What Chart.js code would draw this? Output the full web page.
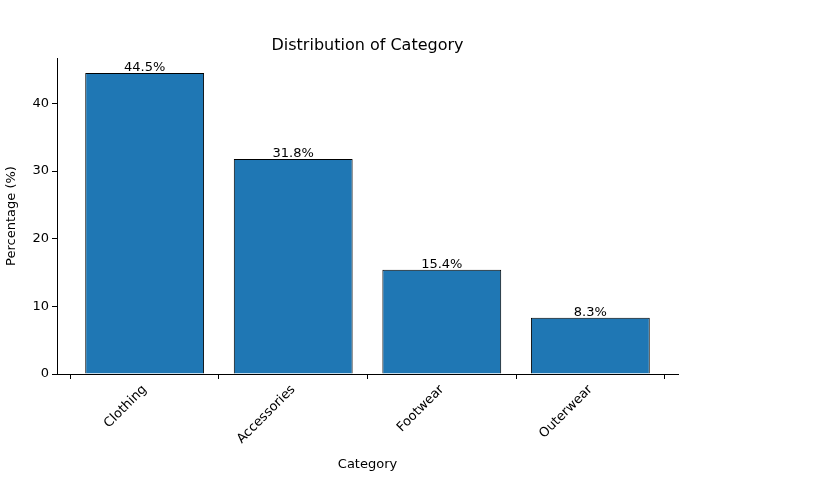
<!DOCTYPE html>
<html>
<head>
<meta charset="utf-8">
<script src="https://cdn.jsdelivr.net/npm/chart.js@4"></script>
<style>
  html, body { margin: 0; background: #fff; }
  #wrap { width: 821px; height: 482px; }
</style>
</head>
<body>
<div id="wrap"><canvas id="myChart"></canvas></div>
<script>
const categories = ['Clothing', 'Accessories', 'Footwear', 'Outerwear'];
const percentages = [44.5, 31.8, 15.4, 8.3];
const yTicks = [0, 10, 20, 30, 40];

Chart.defaults.font.family = 'DejaVu Sans';
Chart.defaults.font.size = 13;
Chart.defaults.color = '#000';

const ctx = document.querySelector('#myChart').getContext('2d');

// title + value labels on top of bars
const labelsPlugin = {
    id: 'labelsPlugin',
    afterDatasetsDraw(chart) {
        const c = chart.ctx;
        const area = chart.chartArea;
        c.save();
        c.fillStyle = '#000';
        c.textAlign = 'center';
        c.textBaseline = 'bottom';
        c.font = '16px DejaVu Sans';
        c.fillText('Distribution of Category', (area.left + area.right) / 2, area.top - 4);
        c.font = '13px DejaVu Sans';
        chart.getDatasetMeta(0).data.forEach((bar, i) => {
            c.fillText(percentages[i].toFixed(1) + '%', bar.x, bar.y + 1);
        });
        c.restore();
    }
};

const data = {
    datasets: [
        {
            data: percentages.map((v, i) => ({ x: i, y: v })),
            backgroundColor: '#1f77b4',
            borderColor: '#000',
            borderWidth: 1,
            barPercentage: 0.8,
            categoryPercentage: 1,
        },
    ],
};

const config = {
    type: 'bar',
    data: data,
    options: {
        responsive: true,
        maintainAspectRatio: false,
        animation: false,
        layout: { padding: { top: 58, right: 143, bottom: 0, left: 0 } },
        plugins: { legend: { display: false }, tooltip: { enabled: false } },
        scales: {
            x: {
                type: 'linear',
                min: -0.59,
                max: 3.59,
                offset: false,
                grid: { drawOnChartArea: false, tickLength: 5, color: '#000' },
                border: { color: '#000' },
                afterBuildTicks: (axis) => { axis.ticks = categories.map((_, i) => ({ value: i })); },
                ticks: {
                    maxRotation: 45,
                    minRotation: 45,
                    callback: (v) => categories[v],
                },
                title: { display: true, text: 'Category', padding: { top: 0, bottom: 10 } },
                afterFit: (axis) => { axis.height = 108; },
            },
            y: {
                min: 0,
                max: 46.725,
                grid: { drawOnChartArea: false, tickLength: 5, color: '#000' },
                border: { color: '#000' },
                afterBuildTicks: (axis) => { axis.ticks = yTicks.map(v => ({ value: v })); },
                title: { display: true, text: 'Percentage (%)', padding: 4 },
                afterFit: (axis) => { axis.width = 57; },
            },
        },
    },
    plugins: [labelsPlugin],
};

const myChart = new Chart(ctx, config);
</script>
</body>
</html>
